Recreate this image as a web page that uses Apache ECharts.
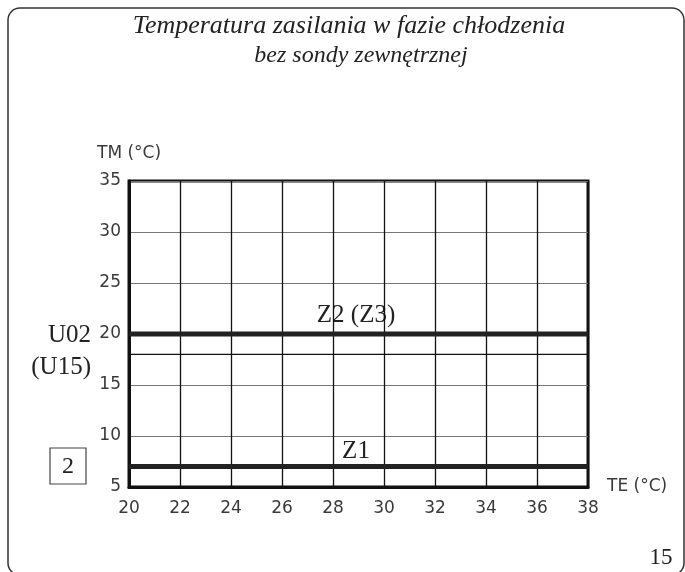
<!DOCTYPE html>
<html>
<head>
<meta charset="utf-8">
<script src="https://cdn.jsdelivr.net/npm/echarts@6/dist/echarts.min.js"></script>
<style>html,body{margin:0;padding:0;background:#fff}#c{width:685px;height:572px}</style>
</head>
<body>
<div id="c"></div>
<script>
// Data
var xRange = [20, 38];
var xTicks = [20, 22, 24, 26, 28, 30, 32, 34, 36, 38];
var yTicks = [5, 10, 15, 20, 25, 30, 35];
var z1Level = [7, 7];
var z2Level = [20, 20];
var extraGrid = [18, 18];
var titleLines = ['Temperatura zasilania w fazie chłodzenia', 'bez sondy zewnętrznej'];

function pairs(xs, ys) { return xs.map(function (x, i) { return [x, ys[i]]; }); }

var chart = echarts.init(document.getElementById('c'));
var serif = 'Liberation Serif';
var sans = 'DejaVu Sans';
chart.setOption({
  animation: false,
  grid: { left: 129, right: 97, top: 181, bottom: 85, show: true, borderColor: '#111', borderWidth: 3, backgroundColor: 'transparent' },
  xAxis: {
    type: 'value', min: xRange[0], max: xRange[1], interval: 2,
    axisLine: { show: true, lineStyle: { color: '#111', width: 3 } },
    axisTick: { show: false },
    axisLabel: { margin: 13, color: '#3a3a3a', fontFamily: sans, fontSize: 17,
      formatter: function (v) { return xTicks.indexOf(v) >= 0 ? String(v) : ''; } },
    splitLine: { show: true, lineStyle: { color: '#111', width: 1.3 } }
  },
  yAxis: {
    type: 'value', min: yTicks[0], max: yTicks[yTicks.length - 1], interval: 5,
    axisLine: { show: true, lineStyle: { color: '#111', width: 3 } },
    axisTick: { show: false },
    axisLabel: { margin: 8, color: '#3a3a3a', fontFamily: sans, fontSize: 17 },
    splitLine: { show: true, lineStyle: { color: '#777', width: 1.2 } }
  },
  series: [
    { type: 'line', data: pairs(xRange, extraGrid), symbol: 'none', silent: true, lineStyle: { color: '#111', width: 1.3 } },
    { type: 'line', data: pairs(xRange, z2Level), symbol: 'none', silent: true, lineStyle: { color: '#222', width: 5 } },
    { type: 'line', data: pairs(xRange, z1Level), symbol: 'none', silent: true, lineStyle: { color: '#222', width: 5 } }
  ],
  graphic: [
    { type: 'rect', shape: { x: 8, y: 8, width: 676, height: 567, r: 12 }, style: { fill: 'none', stroke: '#333', lineWidth: 1.5 }, silent: true },
    { type: 'text', x: 349, y: 26, style: { text: titleLines[0], font: 'italic 26px "' + serif + '"', fill: '#222', align: 'center', verticalAlign: 'middle' } },
    { type: 'text', x: 361, y: 56, style: { text: titleLines[1], font: 'italic 24px "' + serif + '"', fill: '#222', align: 'center', verticalAlign: 'middle' } },
    { type: 'text', x: 97, y: 154, style: { text: 'TM (°C)', font: '17px "' + sans + '"', fill: '#3a3a3a', align: 'left', verticalAlign: 'middle' } },
    { type: 'text', x: 607, y: 487, style: { text: 'TE (°C)', font: '17px "' + sans + '"', fill: '#3a3a3a', align: 'left', verticalAlign: 'middle' } },
    { type: 'text', x: 91, y: 335, style: { text: 'U02', font: '25px "' + serif + '"', fill: '#222', align: 'right', verticalAlign: 'middle' } },
    { type: 'text', x: 91, y: 367, style: { text: '(U15)', font: '25px "' + serif + '"', fill: '#222', align: 'right', verticalAlign: 'middle' } },
    { type: 'rect', shape: { x: 50, y: 448, width: 36, height: 36 }, style: { fill: 'none', stroke: '#444', lineWidth: 1.2 } },
    { type: 'text', x: 68, y: 467, style: { text: '2', font: '24px "' + serif + '"', fill: '#222', align: 'center', verticalAlign: 'middle' } },
    { type: 'text', x: 661, y: 558, style: { text: '15', font: '23px "' + serif + '"', fill: '#222', align: 'center', verticalAlign: 'middle' } },
    { type: 'text', x: 356, y: 315, style: { text: 'Z2 (Z3)', font: '25px "' + serif + '"', fill: '#222', align: 'center', verticalAlign: 'middle' } },
    { type: 'text', x: 356, y: 451, style: { text: 'Z1', font: '25px "' + serif + '"', fill: '#222', align: 'center', verticalAlign: 'middle' } }
  ]
});
</script>
</body>
</html>
